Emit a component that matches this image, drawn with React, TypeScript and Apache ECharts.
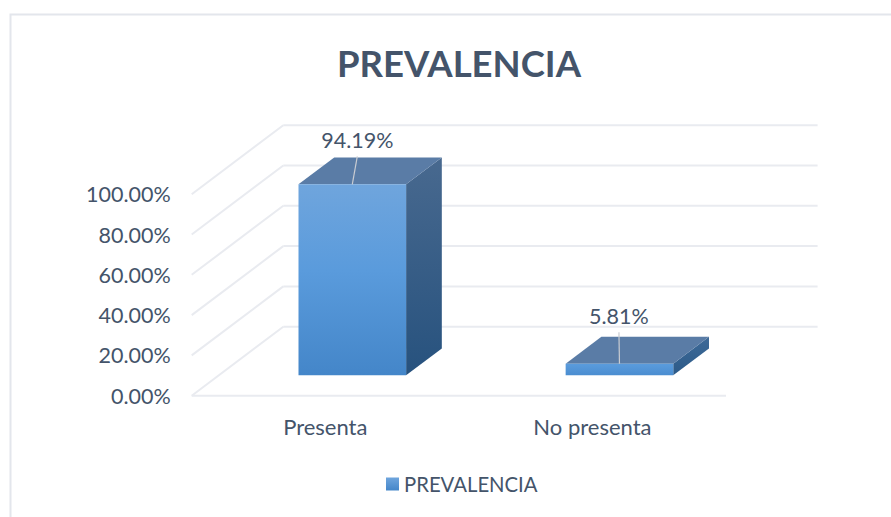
import React, { useEffect, useRef } from "react";
import * as echarts from "echarts";

const categories = ["Presenta", "No presenta"];
const prevalencia = [94.19, 5.81];
const gridValues = [0, 20, 40, 60, 80, 100];
const seriesName = "PREVALENCIA";
const titleText = "PREVALENCIA";

const FONT = "Lato, Carlito, Calibri, sans-serif";
const INK = "#44546A";
const GRID = "#E9EBF0";

export default function App() {
  const ref = useRef<HTMLDivElement>(null);
  useEffect(() => {
    document.body.style.margin = "0";
    const chart = echarts.init(ref.current!, undefined, { renderer: "svg" });

    const wallDx = 91.6;
    const wallDy = -69;
    const barHalf = 53.8;
    const frontFrac = 0.295;
    const depthFrac = 0.39;

    const option: any = {
      animation: false,
      backgroundColor: "#fff",
      title: {
        text: titleText,
        left: 454,
        top: 39,
        textAlign: "center",
        textStyle: { fontFamily: FONT, fontSize: 36.5, fontWeight: "bold", color: INK },
      },
      grid: { left: 191.7, right: 165, top: 194.2, bottom: 121.3 },
      xAxis: {
        type: "category",
        data: categories,
        axisTick: { show: false },
        axisLine: { show: false },
        axisLabel: { fontFamily: FONT, fontSize: 22, color: INK, margin: 20 },
      },
      yAxis: {
        type: "value",
        min: 0,
        max: 100,
        interval: 20,
        splitLine: { show: false },
        axisLine: { show: false },
        axisTick: { show: false },
        axisLabel: {
          fontFamily: FONT,
          fontSize: 21.5,
          color: INK,
          margin: 21,
          formatter: (v: number) => v.toFixed(2) + "%",
        },
      },
      legend: {
        data: [seriesName],
        left: 386,
        top: 474,
        padding: 0,
        icon: "rect",
        itemWidth: 13,
        itemHeight: 13,
        itemGap: 7,
        textStyle: { fontFamily: FONT, fontSize: 20.3, color: INK },
      },
      graphic: [
        {
          type: "polyline",
          silent: true,
          shape: { points: [[10.5, 517], [10.5, 14.5], [891, 14.5]] },
          style: { stroke: "#E3E6EC", lineWidth: 2, fill: "none" },
        },
      ],
      series: [
        {
          type: "custom",
          name: "walls",
          silent: true,
          z: 1,
          data: gridValues.map((v) => [v]),
          encode: { y: 0 },
          renderItem: (_p: any, api: any) => {
            const v = api.value(0);
            const [x0, y] = api.coord([0, v]);
            const left = x0 - (api.size([1, 0])[0] / 2);
            const children: any[] = [
              {
                type: "line",
                shape: { x1: left, y1: y, x2: left + wallDx, y2: y + wallDy },
                style: { stroke: GRID, lineWidth: 2 },
              },
              {
                type: "line",
                shape: {
                  x1: left + wallDx,
                  y1: y + wallDy,
                  x2: left + wallDx + api.size([1, 0])[0] * 2,
                  y2: y + wallDy,
                },
                style: { stroke: GRID, lineWidth: 2 },
              },
            ];
            if (v === 0) {
              children.push({
                type: "line",
                shape: { x1: left, y1: y, x2: left + api.size([1, 0])[0] * 2, y2: y },
                style: { stroke: GRID, lineWidth: 2 },
              });
            }
            return { type: "group", children };
          },
        },
        {
          type: "custom",
          name: seriesName,
          z: 2,
          itemStyle: {
            color: new echarts.graphic.LinearGradient(0, 0, 0, 1, [
              { offset: 0, color: "#6FA5DD" },
              { offset: 1, color: "#4486C9" },
            ]),
          },
          data: categories.map((_, i) => [i, prevalencia[i]]),
          renderItem: (_p: any, api: any) => {
            const i = api.value(0);
            const v = api.value(1);
            const [cx, yTopRaw] = api.coord([i, v]);
            const [, yBaseRaw] = api.coord([i, 0]);
            const fx = frontFrac * wallDx;
            const fy = frontFrac * wallDy;
            const dx = depthFrac * wallDx;
            const dy = depthFrac * wallDy;
            const xl = cx + fx - barHalf;
            const xr = cx + fx + barHalf;
            const yt = yTopRaw + fy - (v > 50 ? 1.2 : 0);
            const yb = yBaseRaw + fy;
            const tall = v > 50;
            const lblDy = tall ? -44 : -47.5;
            const lblDx = tall ? 5 : -0.5;
            return {
              type: "group",
              children: [
                {
                  type: "polygon",
                  shape: { points: [[xr, yt], [xr + dx, yt + dy], [xr + dx, yb + dy], [xr, yb]] },
                  style: {
                    fill: new echarts.graphic.LinearGradient(0, 0, 0, 1, [
                      { offset: 0, color: tall ? "#48698F" : "#3E6A98" },
                      { offset: 1, color: tall ? "#27527E" : "#2C5A88" },
                    ]),
                  },
                },
                {
                  type: "polygon",
                  shape: { points: [[xl, yt], [xl + dx, yt + dy], [xr + dx, yt + dy], [xr, yt]] },
                  style: { fill: "#5A7CA6" },
                },
                {
                  type: "rect",
                  shape: { x: xl, y: yt, width: xr - xl, height: yb - yt },
                  style: {
                    fill: new echarts.graphic.LinearGradient(0, 0, 0, 1, tall
                      ? [
                          { offset: 0, color: "#6FA5DD" },
                          { offset: 0.45, color: "#5A9BDC" },
                          { offset: 1, color: "#4486C9" },
                        ]
                      : [
                          { offset: 0, color: "#5B9CDD" },
                          { offset: 1, color: "#4A8DD0" },
                        ]),
                  },
                },
                {
                  type: "line",
                  shape: {
                    x1: cx + fx,
                    y1: yt,
                    x2: cx + fx + lblDx,
                    y2: yt + lblDy + 16,
                  },
                  style: { stroke: "#C9CCD2", lineWidth: 1.2 },
                },
                {
                  type: "text",
                  style: {
                    text: v.toFixed(2) + "%",
                    x: cx + fx + lblDx,
                    y: yt + lblDy,
                    fill: INK,
                    fontFamily: FONT,
                    fontSize: 21.5,
                    textAlign: "center",
                    textVerticalAlign: "middle",
                  },
                },
              ],
            };
          },
        },
      ],
    };
    chart.setOption(option);
    return () => chart.dispose();
  }, []);
  return <div ref={ref} style={{ width: 891, height: 517 }} />;
}
